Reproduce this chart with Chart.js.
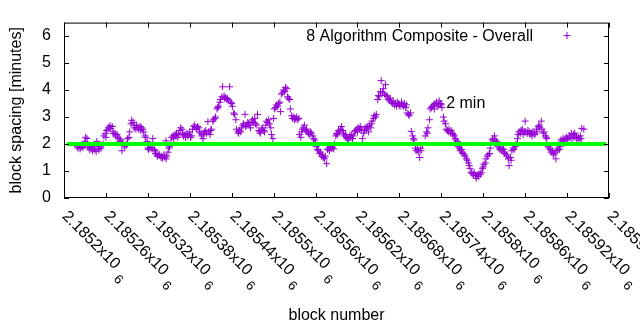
<!DOCTYPE html>
<html>
<head>
<meta charset="utf-8">
<script src="https://cdn.jsdelivr.net/npm/chart.js@4.4.1/dist/chart.umd.min.js"></script>
<style>
    html, body { margin: 0; padding: 0; background: #fff; }
</style>
</head>
<body>
<canvas id="blockSpacingChart" width="640" height="330"></canvas>
<script>
// block heights, one row per ~10 blocks
const blocks = [
    2185219,
    2185220, 2185221, 2185223, 2185224, 2185226, 2185227, 2185229,
    2185230, 2185231, 2185233, 2185234, 2185236, 2185237, 2185239,
    2185240, 2185241, 2185243, 2185244, 2185246, 2185247, 2185249,
    2185250, 2185251, 2185253, 2185254, 2185256, 2185257, 2185259,
    2185260, 2185261, 2185263, 2185264, 2185266, 2185267, 2185269,
    2185270, 2185271, 2185273, 2185274, 2185276, 2185277, 2185279,
    2185280, 2185281, 2185283, 2185284, 2185286, 2185287, 2185289,
    2185290, 2185291, 2185293, 2185294, 2185296, 2185297, 2185299,
    2185300, 2185301, 2185303, 2185304, 2185306, 2185307, 2185309,
    2185310, 2185311, 2185313, 2185314, 2185316, 2185317, 2185319,
    2185320, 2185321, 2185323, 2185324, 2185326, 2185327, 2185329,
    2185330, 2185331, 2185333, 2185334, 2185336, 2185337, 2185339,
    2185340, 2185341, 2185343, 2185344, 2185346, 2185346, 2185347, 2185349,
    2185350, 2185351, 2185353, 2185354, 2185356, 2185357, 2185359,
    2185360, 2185361, 2185363, 2185364, 2185366, 2185367, 2185369,
    2185370, 2185371, 2185373, 2185374, 2185376, 2185377, 2185379,
    2185380, 2185381, 2185383, 2185384, 2185386, 2185387, 2185389,
    2185390, 2185391, 2185393, 2185394, 2185396, 2185397, 2185399,
    2185400, 2185401, 2185403, 2185404, 2185406, 2185407, 2185409,
    2185410, 2185411, 2185413, 2185414, 2185416, 2185417, 2185419,
    2185420, 2185421, 2185423, 2185424, 2185426, 2185427, 2185429,
    2185430, 2185431, 2185433, 2185434, 2185436, 2185437, 2185439,
    2185440, 2185441, 2185443, 2185444, 2185446, 2185447, 2185449,
    2185450, 2185451, 2185453, 2185454, 2185456, 2185457, 2185459,
    2185460, 2185461, 2185463, 2185464, 2185466, 2185467, 2185469,
    2185470, 2185471, 2185473, 2185474, 2185476, 2185477, 2185479,
    2185480, 2185481, 2185483, 2185484, 2185486, 2185487, 2185489,
    2185490, 2185491, 2185493, 2185494, 2185496, 2185497, 2185499,
    2185500, 2185501, 2185503, 2185504, 2185506, 2185507, 2185509,
    2185510, 2185511, 2185513, 2185514, 2185516, 2185517, 2185519,
    2185520, 2185521, 2185523, 2185524, 2185526, 2185527, 2185529,
    2185530, 2185531, 2185533, 2185534, 2185536, 2185537, 2185539,
    2185540, 2185541, 2185543, 2185544, 2185546, 2185547, 2185549,
    2185550, 2185551, 2185553, 2185554, 2185556, 2185557, 2185559,
    2185560, 2185561, 2185563, 2185564, 2185566, 2185567, 2185569,
    2185570, 2185571, 2185573, 2185574, 2185576, 2185577, 2185579,
    2185580, 2185581, 2185583, 2185584, 2185586, 2185587, 2185589,
    2185590, 2185591, 2185593, 2185594, 2185596, 2185597, 2185599,
    2185600, 2185601, 2185603, 2185604, 2185606, 2185607, 2185609,
    2185610, 2185611, 2185613, 2185614, 2185616, 2185617, 2185619,
    2185620, 2185621, 2185623, 2185624, 2185626, 2185627, 2185629,
    2185630, 2185631, 2185633, 2185634, 2185636, 2185637, 2185639,
    2185640, 2185641, 2185643, 2185644, 2185646, 2185647, 2185649,
    2185650, 2185651, 2185653, 2185654, 2185656, 2185657, 2185659,
    2185660, 2185661, 2185663, 2185664, 2185666, 2185667, 2185669,
    2185670, 2185671, 2185673, 2185674, 2185676, 2185677, 2185679,
    2185680, 2185681, 2185683, 2185684, 2185686, 2185687, 2185689,
    2185690, 2185691, 2185693, 2185694, 2185696, 2185697, 2185699,
    2185700, 2185701, 2185703, 2185704, 2185706, 2185707, 2185709,
    2185710, 2185711, 2185713, 2185717, 2185719,
    2185720, 2185721, 2185723, 2185724, 2185726, 2185727, 2185729,
    2185730, 2185731, 2185733, 2185734, 2185736, 2185737, 2185739,
    2185740, 2185741, 2185743, 2185744, 2185746, 2185747, 2185749,
    2185750, 2185751, 2185753, 2185754, 2185756, 2185757, 2185759,
    2185760, 2185761, 2185763, 2185764, 2185766, 2185767, 2185769,
    2185770, 2185771, 2185773, 2185774, 2185776, 2185777, 2185779,
    2185780, 2185781, 2185783, 2185784, 2185786, 2185787, 2185789,
    2185790, 2185791, 2185793, 2185794, 2185796, 2185797, 2185799,
    2185800, 2185801, 2185803, 2185804, 2185806, 2185807, 2185809,
    2185810, 2185811, 2185813, 2185814, 2185816, 2185817, 2185819,
    2185820, 2185821, 2185823, 2185824, 2185826, 2185827, 2185829,
    2185830, 2185831, 2185833, 2185834, 2185836, 2185837, 2185839,
    2185840, 2185841, 2185843, 2185844, 2185846, 2185847, 2185849,
    2185850, 2185851, 2185853, 2185854, 2185856, 2185857, 2185859,
    2185860, 2185861, 2185863, 2185864, 2185866, 2185867, 2185869,
    2185870, 2185871, 2185873, 2185874, 2185876, 2185877, 2185879,
    2185880, 2185881, 2185883, 2185884, 2185886, 2185887, 2185889,
    2185890, 2185891, 2185893, 2185894, 2185896, 2185897, 2185899,
    2185900, 2185901, 2185903, 2185904, 2185906, 2185907, 2185909,
    2185910, 2185911, 2185913, 2185914, 2185916, 2185917, 2185919,
    2185920, 2185921, 2185923, 2185924, 2185926, 2185927, 2185929,
    2185930, 2185931, 2185933, 2185934, 2185936, 2185937, 2185939,
    2185940, 2185941, 2185944,
];

// block spacing in minutes, same order as blocks
const minutes = [
    1.90,
    1.85, 1.95, 1.82, 1.88, 1.93, 1.87, 1.95,
    2.10, 2.25, 2.20, 1.92, 1.85, 1.78, 1.88,
    1.82, 1.75, 1.90, 1.80, 1.72, 2.10, 1.85,
    1.78, 1.92, 1.85, 1.95, 2.00, 2.30, 2.38,
    2.25, 2.50, 2.55, 2.62, 2.68, 2.58, 2.65,
    2.45, 2.38, 2.40, 2.30, 2.35, 2.25, 2.20,
    2.10, 2.15, 1.75, 2.05, 1.95, 1.90, 1.95,
    2.00, 2.20, 2.25, 2.45, 2.75, 2.88, 2.80,
    2.70, 2.60, 2.55, 2.70, 2.62, 2.55, 2.65,
    2.50, 2.60, 2.55, 2.45, 2.30, 2.25, 2.10,
    1.85, 1.80, 1.85, 1.88, 1.82, 2.20, 1.80,
    1.75, 1.65, 1.60, 1.55, 1.62, 1.58, 1.50,
    1.55, 1.48, 1.60, 1.52, 1.45, 2.12, 1.55, 1.70,
    1.85, 1.90, 2.05, 2.25, 2.30, 2.20, 2.35,
    2.30, 2.40, 2.25, 2.35, 2.50, 2.60, 2.55,
    2.40, 2.30, 2.35, 2.25, 2.40, 2.30, 2.35,
    2.45, 2.25, 2.30, 2.55, 2.65, 2.70, 2.60,
    2.55, 2.65, 2.60, 2.45, 2.40, 2.30, 2.20,
    2.35, 2.45, 2.50, 2.40, 2.83, 2.45, 2.35,
    2.50, 2.55, 2.85, 2.90, 2.95, 3.00, 3.30,
    3.35, 3.40, 3.55, 3.65, 3.75, 4.12, 3.78,
    3.70, 3.72, 3.65, 3.68, 3.60, 4.12, 3.55,
    3.50, 3.40, 3.15, 3.10, 2.90, 2.55, 2.45,
    2.40, 2.50, 2.45, 2.60, 2.70, 2.75, 3.10,
    2.65, 2.70, 2.80, 2.75, 2.70, 2.60, 2.85,
    2.90, 2.80, 2.95, 2.75, 2.70, 3.10, 2.50,
    2.45, 2.40, 2.55, 2.60, 2.50, 2.45, 2.70,
    2.85, 2.80, 2.90, 2.75, 2.60, 2.35, 2.20,
    2.95, 3.30, 3.35, 3.45, 3.40, 3.50, 3.55,
    3.20, 3.85, 3.90, 4.00, 3.95, 4.10, 4.05,
    3.75, 3.70, 3.65, 3.30, 3.05, 2.95, 3.00,
    2.90, 2.95, 3.00, 2.90, 2.95, 2.35, 2.25,
    2.45, 2.55, 2.60, 2.70, 2.50, 2.55, 2.45,
    2.40, 2.35, 2.45, 2.40, 2.30, 2.20, 2.15,
    2.05, 1.90, 1.80, 1.75, 1.65, 1.70, 1.55,
    1.60, 1.50, 1.45, 1.55, 1.27, 1.80, 1.85,
    1.75, 1.90, 1.85, 1.88, 1.82, 2.00, 2.30,
    2.40, 2.35, 2.50, 2.45, 2.55, 2.65, 2.50,
    2.40, 2.30, 2.35, 2.25, 2.20, 2.15, 2.30,
    2.25, 2.35, 2.20, 2.30, 2.45, 2.50, 2.55,
    2.45, 2.60, 2.55, 2.65, 2.50, 2.20, 2.40,
    2.50, 2.60, 2.55, 2.65, 2.45, 2.70, 2.60,
    2.75, 2.85, 2.95, 3.05, 3.00, 3.10, 3.65,
    3.80, 3.75, 3.95, 4.35, 3.90, 4.05, 3.85,
    4.20, 3.80, 3.75, 3.65, 3.60, 3.70, 3.55,
    3.50, 3.60, 3.45, 3.50, 3.40, 3.55, 3.50,
    3.45, 3.40, 3.55, 3.45, 3.40, 3.50, 3.35,
    3.45, 3.15, 3.10, 3.05, 3.15, 2.47, 2.30,
    2.20, 2.15, 1.85, 1.75, 1.80, 1.70, 1.50,
    1.85, 1.75, 1.95, 2.30, 2.45,
    2.40, 2.60, 2.90, 3.30, 3.35, 3.40, 3.45,
    3.30, 3.50, 3.55, 3.40, 3.45, 3.60, 3.50,
    3.45, 3.35, 3.00, 2.85, 2.75, 2.55, 2.50,
    2.45, 2.55, 2.40, 2.50, 2.40, 2.35, 2.30,
    2.20, 2.15, 2.10, 1.90, 1.85, 1.75, 1.80,
    1.70, 1.65, 1.60, 1.55, 1.45, 1.40, 1.30,
    1.20, 1.10, 0.95, 0.90, 0.85, 0.95, 0.82,
    0.73, 0.85, 0.80, 0.90, 0.88, 0.95, 1.10,
    1.15, 1.25, 1.30, 1.45, 1.55, 1.60, 1.65,
    1.85, 2.05, 2.15, 2.20, 2.30, 2.15, 2.10,
    2.05, 1.90, 1.85, 1.80, 1.75, 1.85, 1.80,
    1.70, 1.65, 1.60, 1.55, 1.45, 1.20, 1.50,
    1.40, 1.75, 1.85, 1.80, 1.90, 2.00, 2.20,
    2.35, 2.45, 2.40, 2.50, 2.55, 2.35, 2.45,
    2.85, 2.45, 2.40, 2.50, 2.45, 2.35, 2.40,
    2.30, 2.45, 2.40, 2.35, 2.55, 2.45, 2.65,
    2.70, 2.60, 2.85, 2.55, 2.40, 2.45, 2.30,
    2.25, 2.20, 1.90, 1.85, 1.80, 1.70, 1.75,
    1.65, 1.60, 1.70, 1.45, 1.75, 1.85, 1.80,
    1.90, 2.15, 2.10, 2.20, 2.15, 2.20, 2.25,
    2.15, 2.20, 2.30, 2.25, 2.40, 2.20, 2.35,
    2.25, 2.40, 2.30, 2.20, 2.25, 2.15, 2.30,
    2.20, 2.58, 2.55,
];

const xTicks = [
    2185200, 2185260, 2185320, 2185380, 2185440, 2185500, 2185560,
    2185620, 2185680, 2185740, 2185800, 2185860, 2185920, 2185980,
];
const yTicks = [0, 1, 2, 3, 4, 5, 6];

// the 2 minute target line
const targetBlocks = [2185204, 2185976];
const targetMinutes = [2, 2];
const targetLabel = "2 min";
const targetLabelAt = [2185747, 3.5];

const seriesName = "8 Algorithm Composite - Overall";

const FONT = "'Liberation Sans', Arial, sans-serif";
const PURPLE = "#9400d3";

const gnuplotFrame = {
    id: "gnuplotFrame",

    afterDraw(chart) {
        const { ctx, chartArea: a, scales } = chart;
        const x = scales.x;
        const y = scales.y;

        ctx.save();

        ctx.strokeStyle = "#000";
        ctx.lineWidth = 1;
        ctx.strokeRect(a.left + 0.5, a.top + 0.5, a.right - a.left - 1, a.bottom - a.top - 1);

        // inward ticks on all four sides
        ctx.beginPath();
        yTicks.forEach((v) => {
            const py = Math.round(y.getPixelForValue(v)) + 0.5;
            ctx.moveTo(a.left, py);
            ctx.lineTo(a.left + 5, py);
            ctx.moveTo(a.right - 5, py);
            ctx.lineTo(a.right, py);
        });
        xTicks.forEach((v) => {
            const px = Math.round(x.getPixelForValue(v)) + 0.5;
            ctx.moveTo(px, a.bottom);
            ctx.lineTo(px, a.bottom - 5);
            ctx.moveTo(px, a.top);
            ctx.lineTo(px, a.top + 5);
        });
        ctx.stroke();

        // rotated x tick labels, "2.1852x10" plus the exponent
        ctx.fillStyle = "#000";
        ctx.textAlign = "left";
        ctx.textBaseline = "alphabetic";
        xTicks.forEach((v) => {
            const text = String(v / 1e6) + "x10";
            ctx.save();
            ctx.translate(x.getPixelForValue(v) - 2.5, a.bottom + 19);
            ctx.rotate(Math.PI / 4);
            ctx.font = "16px " + FONT;
            ctx.fillText(text, 0, 0);
            const w = ctx.measureText(text).width;
            ctx.font = "13px " + FONT;
            ctx.fillText("6", w + 6, 8);
            ctx.restore();
        });

        // key
        ctx.font = "16px " + FONT;
        ctx.textAlign = "right";
        ctx.fillText(seriesName, a.right - 76, a.top + 18.5);
        const kx = a.right - 42;
        const ky = a.top + 13;
        ctx.strokeStyle = PURPLE;
        ctx.beginPath();
        ctx.moveTo(kx - 3.5, ky);
        ctx.lineTo(kx + 3.5, ky);
        ctx.moveTo(kx, ky - 3.5);
        ctx.lineTo(kx, ky + 3.5);
        ctx.stroke();

        // "2 min" label
        ctx.textAlign = "left";
        ctx.textBaseline = "middle";
        ctx.fillText(
            targetLabel,
            x.getPixelForValue(targetLabelAt[0]),
            y.getPixelForValue(targetLabelAt[1])
        );

        ctx.restore();
    },
};

function createChart(elementId) {
    const canvas = document.getElementById(elementId);

    if (!canvas || typeof Chart === "undefined") {
        return;
    }

    Chart.defaults.font.family = FONT;
    Chart.defaults.font.size = 16;
    Chart.defaults.color = "#000";

    new Chart(canvas.getContext("2d"), {
        type: "scatter",

        data: {
            datasets: [
                {
                    label: targetLabel,
                    data: targetBlocks.map((b, i) => ({ x: b, y: targetMinutes[i] })),
                    showLine: true,
                    borderColor: "#00ff00",
                    borderWidth: 4,
                    borderCapStyle: "butt",
                    pointRadius: 0,
                },
                {
                    label: seriesName,
                    data: blocks.map((b, i) => ({ x: b, y: minutes[i] })),
                    showLine: false,
                    pointStyle: "cross",
                    pointRadius: 3.5,
                    pointHoverRadius: 3.5,
                    borderColor: PURPLE,
                    backgroundColor: PURPLE,
                    borderWidth: 1,
                },
            ],
        },

        options: {
            responsive: false,
            animation: false,
            devicePixelRatio: 1,

            layout: {
                padding: { left: 0, right: 31, top: 19, bottom: 0 },
            },

            plugins: {
                legend: { display: false },
                tooltip: { enabled: false },
            },

            scales: {
                x: {
                    type: "linear",
                    min: 2185200,
                    max: 2185980,
                    afterBuildTicks: (scale) => {
                        scale.ticks = xTicks.map((v) => ({ value: v }));
                    },
                    afterFit: (scale) => {
                        scale.height = 132;
                    },
                    ticks: { display: false },
                    grid: { display: false },
                    border: { display: false },
                    title: {
                        display: true,
                        text: "block number",
                        padding: { top: 0, bottom: 5 },
                    },
                },

                y: {
                    min: 0,
                    max: 6.5,
                    afterBuildTicks: (scale) => {
                        scale.ticks = yTicks.map((v) => ({ value: v }));
                    },
                    afterFit: (scale) => {
                        scale.width = 64;
                    },
                    ticks: { padding: 13 },
                    grid: { display: false, drawTicks: false },
                    border: { display: false },
                    title: {
                        display: true,
                        text: "block spacing [minutes]",
                        padding: { top: 7, bottom: 0 },
                    },
                },
            },
        },

        plugins: [gnuplotFrame],
    });
}

createChart("blockSpacingChart");
</script>
</body>
</html>
